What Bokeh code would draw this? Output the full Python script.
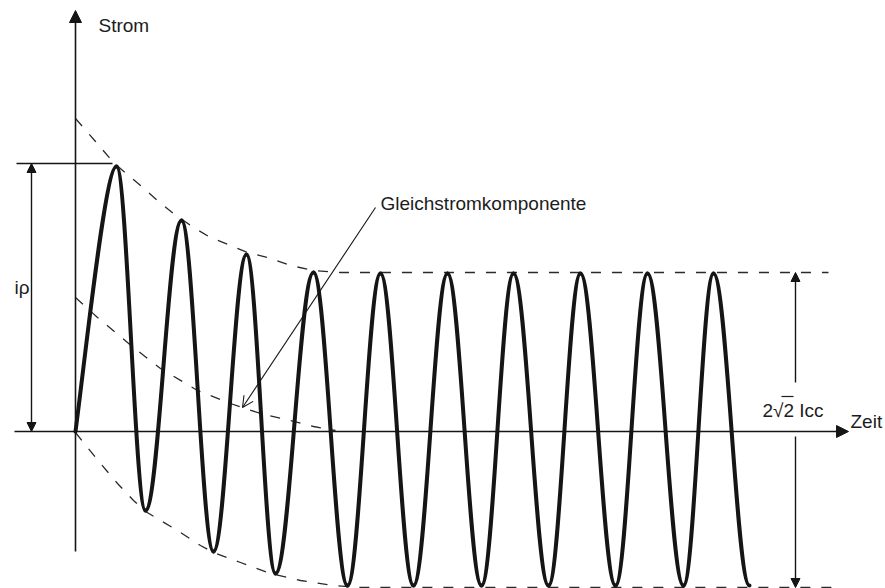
import numpy as np
from bokeh.plotting import figure
from bokeh.models import Range1d, Arrow, NormalHead, OpenHead, Label
from bokeh.embed import file_html
from bokeh.resources import INLINE

# ---------------- data (time in ms, current in arbitrary units) ----------------
# extrema of the short-circuit current (start, peak, trough, ...)
wave_t = [0.0, 12.3, 21.0, 31.8, 41.4, 51.3, 60.0, 71.4, 81.6, 91.5, 101.4,
          111.6, 121.8, 131.4, 141.9, 151.5, 162.0, 171.6, 182.4, 191.4, 202.2]
wave_i = [0.0, 26.5, -7.9, 21.1, -12.0, 17.7, -14.2, 15.9, -15.4, 15.8, -15.4,
          15.8, -15.4, 15.8, -15.4, 15.8, -15.4, 15.8, -15.4, 15.8, -15.4]

# upper envelope (dashed)
upper_t = [0.0, 6.0, 11.4, 15.9, 19.5, 24.6, 29.4, 35.4, 40.5, 46.5, 51.6,
           57.6, 64.5, 71.4, 79.5, 225.9]
upper_i = [31.3, 29.0, 26.9, 25.6, 24.6, 23.1, 21.8, 20.4, 19.4, 18.6, 17.9,
           17.4, 16.6, 16.1, 15.9, 15.9]

# lower envelope (dashed)
lower_t = [0.0, 3.6, 7.5, 12.6, 17.4, 21.0, 25.5, 30.6, 37.5, 41.4, 49.5,
           58.5, 67.5, 77.4, 85.5, 228.3]
lower_i = [-0.1, -1.6, -3.2, -5.2, -6.9, -8.0, -8.9, -9.9, -11.4, -12.1, -13.1,
           -14.2, -14.9, -15.4, -15.6, -15.6]

# DC component (dashed)
dc_t = [0.0, 6.6, 17.4, 25.5, 36.6, 46.5, 55.5, 64.5, 71.4, 78.0]
dc_i = [13.4, 11.4, 8.4, 6.3, 4.1, 2.8, 1.8, 1.1, 0.5, 0.1]

labels = {"y": "Strom", "x": "Zeit", "ip": "i\u03c1", "dc": "Gleichstromkomponente",
          "icc": "2\u221a2 Icc"}

# ---------------- figure ----------------
PX_X = 0.3   # ms per pixel
PX_Y = 0.1   # units per pixel
W, H = 885, 588
x0_px, y0_px = 75, 431   # origin position in the picture

p = figure(width=W, height=H, output_backend="svg", toolbar_location=None,
           x_range=Range1d((0 - x0_px) * PX_X, (W - x0_px) * PX_X),
           y_range=Range1d((y0_px - H) * PX_Y, y0_px * PX_Y),
           min_border=0, outline_line_color=None, background_fill_color="white",
           border_fill_color="white")
p.axis.visible = False
p.grid.visible = False

INK = "#151515"
FONT = "Liberation Sans"
FS = "19px"

# ---- dashed envelopes and DC component ----
dash = dict(line_color="#2a2a2a", line_width=1.3, line_dash="10 11")
p.line(upper_t, upper_i, **dash)
p.line(lower_t, lower_i, **dash)
p.line(dc_t, dc_i, **dash)

# ---- axes ----
p.add_layout(Arrow(start=None, end=NormalHead(size=12, fill_color=INK, line_color=INK),
                   x_start=0, y_start=-120 * PX_Y, x_end=0, y_end=421 * PX_Y,
                   line_color=INK, line_width=1.6))
p.add_layout(Arrow(start=None, end=NormalHead(size=12, fill_color=INK, line_color=INK),
                   x_start=-61 * PX_X, y_start=0, x_end=773 * PX_X, y_end=0,
                   line_color=INK, line_width=1.6))

# ---- waveform: half-waves as cubic Bezier curves between extrema ----
K = 1 - 2 / np.pi
t = np.array(wave_t)
i = np.array(wave_i)
xs0, ys0, xs1, ys1 = t[:-1], i[:-1], t[1:], i[1:]
dx = xs1 - xs0
cx0 = xs0 + K * dx
cy0 = ys0.copy()
cx1 = xs1 - K * dx
cy1 = ys1.copy()
# first rise from zero has a steep start
cx0[0] = xs0[0] + 0.27 * dx[0]
cy0[0] = ys0[0] + 0.32 * (ys1[0] - ys0[0])
cx1[0] = xs1[0] - 0.27 * dx[0]
p.bezier(x0=xs0, y0=ys0, x1=xs1, y1=ys1, cx0=cx0, cy0=cy0, cx1=cx1, cy1=cy1,
         line_color=INK, line_width=4.0, line_cap="round")

# ---- ip dimension ----
ip_level = wave_i[1] + 0.3
p.segment(x0=[-59 * PX_X], y0=[ip_level], x1=[wave_t[1] - 1.2], y1=[ip_level],
          line_color=INK, line_width=1.5)
p.add_layout(Arrow(start=NormalHead(size=9, fill_color=INK, line_color=INK),
                   end=NormalHead(size=9, fill_color=INK, line_color=INK),
                   x_start=-44 * PX_X, y_start=0, x_end=-44 * PX_X, y_end=ip_level,
                   line_color=INK, line_width=1.4))

# ---- 2*sqrt(2) Icc dimension ----
xd = (795 - x0_px) * PX_X
p.add_layout(Arrow(start=None, end=NormalHead(size=9, fill_color=INK, line_color=INK),
                   x_start=xd, y_start=(y0_px - 382) * PX_Y, x_end=xd, y_end=upper_i[-1],
                   line_color=INK, line_width=1.4))
p.add_layout(Arrow(start=None, end=NormalHead(size=9, fill_color=INK, line_color=INK),
                   x_start=xd, y_start=(y0_px - 436) * PX_Y, x_end=xd, y_end=lower_i[-1],
                   line_color=INK, line_width=1.4))

# ---- pointer to DC component ----
tip_t = (242 - x0_px) * PX_X
tip_i = float(np.interp(tip_t, dc_t, dc_i))
p.add_layout(Arrow(start=None, end=OpenHead(size=11, line_color=INK, line_width=1.1),
                   x_start=(375 - x0_px) * PX_X, y_start=(y0_px - 207) * PX_Y,
                   x_end=tip_t, y_end=tip_i, line_color=INK, line_width=1.1))

# ---- texts ----
def lab(x_px, y_px, txt):
    p.add_layout(Label(x=(x_px - x0_px) * PX_X, y=(y0_px - y_px) * PX_Y, text=txt,
                       text_font=FONT, text_font_size=FS, text_color="#1c1c1c",
                       text_baseline="alphabetic", text_align="left"))

lab(98, 25, labels["y"])
lab(850, 421, labels["x"])
lab(14, 287, labels["ip"])
lab(380, 203, labels["dc"])
lab(762, 410, labels["icc"])
# bar of the square-root sign over the second "2"
p.segment(x0=[(762 + 19 - x0_px) * PX_X], y0=[(y0_px - 396) * PX_Y],
          x1=[(762 + 31 - x0_px) * PX_X], y1=[(y0_px - 396) * PX_Y],
          line_color="#1c1c1c", line_width=1.2)

open("out.html", "w").write(file_html(p, INLINE))
